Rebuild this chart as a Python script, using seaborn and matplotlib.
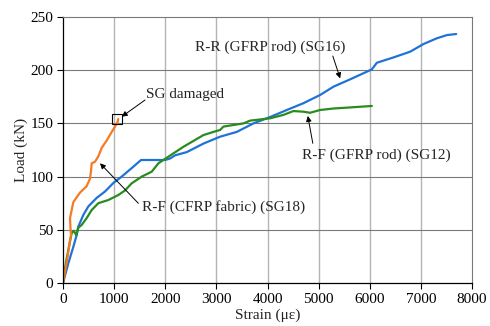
import matplotlib
matplotlib.use("Agg")
import matplotlib.pyplot as plt
import seaborn as sns
import pandas as pd

# ---- data ----
sg18_strain = [0, 91, 137, 157, 150, 137, 202, 333, 463, 528, 548, 561, 626, 691, 757, 855, 953, 1017, 1070, 1080]
sg18_load   = [0, 25, 40, 45, 48, 61, 76, 85, 91, 98, 105, 112.5, 114, 119, 127, 134, 142, 147, 151.6, 154]

sg16_strain = [0, 104, 202, 267, 300, 398, 496, 659, 822, 985, 1148, 1344, 1526, 1996, 2094, 2192, 2420, 2746,
               3072, 3399, 3725, 4051, 4378, 4703, 5029, 5290, 5616, 5943, 6041, 6139, 6464, 6791, 7051,
               7313, 7509, 7690]
sg16_load   = [0, 18.5, 34, 45, 53, 64, 72, 80, 86, 94, 100, 108, 115.6, 115.6, 117, 120, 123, 131,
               137.5, 142, 150, 156, 162.6, 169, 176.7, 184.5, 191.4, 198.6, 200.8, 207, 212, 217.4, 224.6,
               230, 233, 234]

sg12_strain = [0, 60, 120, 170, 210, 260, 300, 365, 463, 561, 691, 887, 1083, 1213, 1344, 1540, 1735, 1866,
               2061, 2355, 2746, 2941, 3072, 3138, 3529, 3660, 4051, 4311, 4507, 4703, 4834, 5029, 5290,
               5616, 6041]
sg12_load   = [0, 20, 35, 47, 49, 45, 52, 54.5, 61, 68.6, 75, 78, 82.7, 87, 93.7, 100, 104.6, 112.5,
               118.7, 128, 139, 142, 143.8, 147, 150, 152.6, 154.8, 158, 161.6, 161, 160, 162.6, 164,
               165, 166.4]

damaged_strain = [1050]
damaged_load = [154]

x_ticks = [0, 1000, 2000, 3000, 4000, 5000, 6000, 7000, 8000]
y_ticks = [0, 50, 100, 150, 200, 250]

labels = {
    "SG damaged": ((1624, 176.7), (1605, 172), (1149, 156.3)),
    "R-R (GFRP rod) (SG16)": ((2583, 221.8), (5278, 213.3), (5421, 192.3)),
    "R-F (GFRP rod) (SG12)": ((4671, 120.3), (4886, 131.3), (4788, 157)),
    "R-F (CFRP fabric) (SG18)": ((1540, 71.7), (1474, 74.9), (724, 112.5)),
}

sns.set_style("white")
plt.rcParams["font.family"] = ["Liberation Serif", "DejaVu Serif"]

fig = plt.figure(figsize=(4.9, 3.26), dpi=100)
ax = fig.add_axes([63/490, 1-283/326, (472-63)/490, (283-17)/326])

df16 = pd.DataFrame({"strain": sg16_strain, "load": sg16_load})
df12 = pd.DataFrame({"strain": sg12_strain, "load": sg12_load})
df18 = pd.DataFrame({"strain": sg18_strain, "load": sg18_load})

sns.lineplot(data=df16, x="strain", y="load", ax=ax, color="#1f73d6", lw=1.6, sort=False, estimator=None)
sns.lineplot(data=df12, x="strain", y="load", ax=ax, color="#2a8b1f", lw=1.6, sort=False, estimator=None)
sns.lineplot(data=df18, x="strain", y="load", ax=ax, color="#f57a22", lw=1.6, sort=False, estimator=None)

ax.plot(damaged_strain, damaged_load, marker="s", markersize=7, markerfacecolor="none",
        markeredgecolor="black", markeredgewidth=0.8, linestyle="none", zorder=5)

ax.set_xlim(0, 8000)
ax.set_ylim(0, 250)
ax.set_xticks(x_ticks)
ax.set_yticks(y_ticks)
ax.tick_params(axis="both", labelsize=11, direction="out", length=4, width=0.8, colors="black",
               bottom=True, left=True, pad=3)

for t in x_ticks[1:-1]:
    ax.axvline(t, color="#b4b4b4", lw=1.0, zorder=0)
for t in y_ticks[1:-1]:
    ax.axhline(t, color="#7a7a7a", lw=0.8, zorder=0)

for s in ["top", "right"]:
    ax.spines[s].set_color("#7a7a7a")
    ax.spines[s].set_linewidth(0.8)
for s in ["left", "bottom"]:
    ax.spines[s].set_color("black")
    ax.spines[s].set_linewidth(0.9)

ax.set_xlabel("Strain (\u03bc\u03b5)", fontsize=11, labelpad=2)
ax.set_ylabel("Load (kN)", fontsize=11, labelpad=2)

for text, (tpos, tail, head) in labels.items():
    ax.text(tpos[0], tpos[1], text, fontsize=11, ha="left", va="center", zorder=6)
    ax.annotate("", xy=head, xytext=tail,
                arrowprops=dict(arrowstyle="-|>", color="black", lw=0.7, mutation_scale=8,
                                shrinkA=0, shrinkB=0), zorder=6)

fig.savefig("out.png", dpi=100)
